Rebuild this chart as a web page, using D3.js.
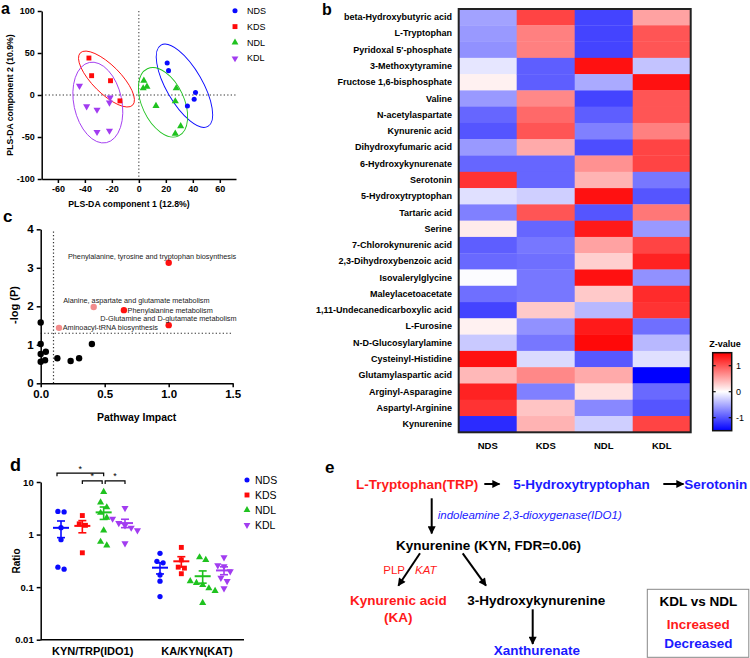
<!DOCTYPE html>
<html><head><meta charset="utf-8">
<script src="https://cdn.jsdelivr.net/npm/d3@7/dist/d3.min.js"></script>
<style>
html,body{margin:0;padding:0;background:#fff;}
svg{display:block;font-family:"Liberation Sans",Arial,Helvetica,sans-serif;}
</style></head><body>
<svg id="fig" width="750" height="658"></svg>
<script>
// ================= DATA =================
const groups = ["NDS","KDS","NDL","KDL"];
const groupColors = ["#0a0aff","#ff0a0a","#1fc21f","#a23cf0"];

// Panel a : PLS-DA scores [component 1, component 2]
const plsNDS = [[21,38],[22,29],[42,3],[41,-5],[36,-13]];
const plsKDS = [[-37,44],[-35,23],[-21,17],[-14,-7]];
const plsNDL = [[3.7,17],[3.2,8],[6,10],[27.7,8],[27,-7.5],[12.7,-13],[31,-37],[27,-46]];
const plsKDL = [[-44,11],[-38.7,-13.5],[-31,-17.5],[-21.3,-3],[-21.8,-9],[-31,-44],[-21.8,-42.5]];
const plsCenters = [[33.8,11],[-24,19],[17.9,-8.7],[-30.4,-9]];
const plsXTicks = [-60,-40,-20,0,20,40,60];
const plsYTicks = [-100,-50,0,50,100];

// Panel b : heatmap z-values
const metabolites = ["beta-Hydroxybutyric acid","L-Tryptophan","Pyridoxal 5'-phosphate","3-Methoxytyramine",
 "Fructose 1,6-bisphosphate","Valine","N-acetylaspartate","Kynurenic acid","Dihydroxyfumaric acid",
 "6-Hydroxykynurenate","Serotonin","5-Hydroxytryptophan","Tartaric acid","Serine","7-Chlorokynurenic acid",
 "2,3-Dihydroxybenzoic acid","Isovalerylglycine","Maleylacetoacetate","1,11-Undecanedicarboxylic acid",
 "L-Furosine","N-D-Glucosylarylamine","Cysteinyl-Histidine","Glutamylaspartic acid","Arginyl-Asparagine",
 "Aspartyl-Arginine","Kynurenine"];
const zNDS = [-0.55,-0.6,-0.65,-0.15,0.08,-0.6,-0.9,-1.0,-0.6,-0.9,1.2,-0.18,-0.75,0.12,-0.95,-0.88,-0.02,-0.85,-1.1,0.08,-0.32,1.4,0.42,1.3,1.2,-1.25];
const zKDS = [1.1,0.75,0.75,-0.95,-0.95,0.7,0.88,1.0,0.5,-0.9,-0.9,-0.28,1.0,-0.9,-0.8,-0.85,-0.8,-0.8,0.32,-0.65,-0.8,-0.22,0.7,-0.75,0.35,0.45];
const zNDL = [-1.1,-1.1,-1.1,1.4,-0.5,-1.1,-0.95,-0.75,-1.05,0.65,0.45,1.4,-1.0,1.35,0.55,0.28,1.4,0.32,-0.42,1.35,1.45,-0.98,0.5,0.18,-0.7,-0.28];
const zKDL = [0.55,1.0,1.0,-0.35,1.4,1.0,1.0,0.75,1.1,1.1,-0.8,-1.0,0.8,-0.6,1.1,1.3,-0.65,1.25,1.2,-0.85,-0.42,-0.18,-1.5,-0.88,-1.0,1.1];
const zTicks = [1,0,-1];

// Panel c : pathway analysis
const pathNames = ["Phenylalanine, tyrosine and tryptophan biosynthesis","Alanine, aspartate and glutamate metabolism",
 "Phenylalanine metabolism","D-Glutamine and D-glutamate metabolism","Aminoacyl-tRNA biosynthesis"];
const pathImpact = [1.0,0.414,0.65,1.0,0.143];
const pathLogP = [3.13,1.98,1.9,1.51,1.44];
const pathColor = ["#ff1010","#f28b8b","#ff1010","#ff1010","#f28b8b"];
const otherImpact = [0,0,0,0,0.034,0.04,0.13,0.234,0.30,0.40];
const otherLogP = [1.58,1.02,0.76,0.56,0.6,0.82,0.65,0.58,0.65,1.02];
const impactTicks = [0,0.5,1.0,1.5];
const logPTicks = [0,1,2,3,4];

// Panel d : ratios
const ratioCats = ["KYN/TRP(IDO1)","KA/KYN(KAT)"];
const kynTrpNDS = [2.7,2.75,1.35,0.8,0.24,0.22];
const kynTrpKDS = [2.3,1.6,1.5,0.45];
const kynTrpNDL = [6.5,4.1,3.3,2.6,2.1,1.2,0.73,0.62];
const kynTrpKDL = [3.2,2.0,1.65,1.5,1.35,1.2,0.68];
const kaKynNDS = [0.44,0.31,0.29,0.17,0.13,0.066];
const kaKynKDS = [0.57,0.33,0.24,0.23,0.18];
const kaKynNDL = [0.37,0.33,0.13,0.12,0.11,0.095,0.085,0.05];
const kaKynKDL = [0.37,0.26,0.25,0.2,0.15,0.13,0.095];
const ratioTicks = [0.01,0.1,1,10];
const sigBrackets = [["NDS","NDL",14.7],["KDS","NDL",10.5],["NDL","KDL",10.5]];

// ================= DRAW =================
const FONT = '"Liberation Sans",Arial,Helvetica,sans-serif';
const svg = d3.select("#fig");
const RED = "#ff1a1a", BLUE = "#1a1aff";

function styleAxis(g, fs){
  g.attr("font-family", FONT);
  g.selectAll("path,line").attr("stroke","#000").attr("stroke-width",1.5);
  g.selectAll("text").attr("font-size",fs).attr("font-weight","bold").attr("fill","#000");
}
function txt(g, x, y, s, o={}){
  const t = g.append("text").attr("x",x).attr("y",y).attr("dominant-baseline","central")
    .attr("font-size",o.fs||10).attr("font-weight",o.fw||"bold").attr("fill",o.fill||"#000")
    .attr("text-anchor",o.anchor||"start").text(s);
  if(o.italic) t.attr("font-style","italic");
  if(o.rot!==undefined) t.attr("transform",`rotate(${o.rot},${x},${y})`);
  return t;
}
const symTypes = [d3.symbolCircle, d3.symbolSquare, d3.symbolTriangle, d3.symbolTriangle];
function drawSym(g, gi, x, y, size){
  g.append("path").attr("d", d3.symbol(symTypes[gi], size)())
    .attr("transform", `translate(${x},${y})` + (gi===3 ? " rotate(180)" : ""))
    .attr("fill", groupColors[gi]);
}

// ---------- panel labels ----------
txt(svg, 1, 8, "a", {fs:16});
txt(svg, 322, 9, "b", {fs:16});
txt(svg, 3, 216, "c", {fs:17});
txt(svg, 10, 465, "d", {fs:18});
txt(svg, 325, 467, "e", {fs:17});

// ---------- Panel a ----------
{
  const g = svg.append("g");
  const x = d3.scaleLinear([-72,72],[41.7,236]);
  const y = d3.scaleLinear([-100,100],[179,11]);
  g.append("line").attr("x1",x(0)).attr("x2",x(0)).attr("y1",y(100)).attr("y2",y(-100))
    .attr("stroke","#333").attr("stroke-width",1).attr("stroke-dasharray","1.3,2.2");
  g.append("line").attr("x1",x(-72)).attr("x2",x(72)).attr("y1",y(0)).attr("y2",y(0))
    .attr("stroke","#333").attr("stroke-width",1).attr("stroke-dasharray","1.3,2.2");
  const ell = [[18,47,-30],[14,37,-45],[21,37,-25],[24,41,-12]]; // rx, ry (px), rotation
  plsCenters.forEach((c,i)=>{
    const cx=x(c[0]), cy=y(c[1]);
    g.append("ellipse").attr("cx",cx).attr("cy",cy).attr("rx",ell[i][0]).attr("ry",ell[i][1])
      .attr("transform",`rotate(${ell[i][2]},${cx},${cy})`).attr("fill","none")
      .attr("stroke",groupColors[i]).attr("stroke-width",0.9);
  });
  [plsNDS,plsKDS,plsNDL,plsKDL].forEach((pts,gi)=>{
    pts.forEach(p=>drawSym(g, gi, x(p[0]), y(p[1]), gi===1?24:(gi===0?20:22)));
  });
  const xa = g.append("g").attr("transform",`translate(0,${y(-100)})`)
    .call(d3.axisBottom(x).tickValues(plsXTicks).tickSize(4).tickSizeOuter(0).tickFormat(d=>String(d)));
  styleAxis(xa, 9);
  const ya = g.append("g").attr("transform",`translate(${x(-72)},0)`)
    .call(d3.axisLeft(y).tickValues(plsYTicks).tickSize(4).tickSizeOuter(0).tickFormat(d=>String(d)));
  styleAxis(ya, 9);
  txt(g, 129, 204, "PLS-DA component 1 (12.8%)", {fs:8.7, anchor:"middle"});
  txt(g, 10, 95, "PLS-DA component 2 (10.9%)", {fs:8.7, anchor:"middle", rot:-90});
  groups.forEach((n,i)=>{
    drawSym(g, i, 235, 10.7+i*15.9, i===1?24:20);
    txt(g, 247, 10.7+i*15.9, n, {fs:9, fw:"normal"});
  });
}

// ---------- Panel b ----------
{
  const g = svg.append("g");
  const x = d3.scaleBand(groups,[458.7,690.7]);
  const y = d3.scaleBand(metabolites,[9,432.3]);
  const col = d3.scaleLinear([-1.5,0,1.5],["#0000ff","#ffffff","#ff0000"]).clamp(true);
  const cols = [zNDS,zKDS,zNDL,zKDL];
  cols.forEach((arr,ci)=>{
    arr.forEach((v,ri)=>{
      g.append("rect").attr("x",x(groups[ci])).attr("y",y(metabolites[ri]))
        .attr("width",x.bandwidth()+0.3).attr("height",y.bandwidth()+0.3).attr("fill",col(v));
    });
  });
  g.append("rect").attr("x",458.7).attr("y",9).attr("width",232).attr("height",423.3)
    .attr("fill","none").attr("stroke","#222").attr("stroke-width",2);
  metabolites.forEach(m=>txt(g, 452, y(m)+y.bandwidth()/2, m, {fs:9, anchor:"end"}));
  groups.forEach(n=>txt(g, x(n)+x.bandwidth()/2, 445, n, {fs:9.5, anchor:"middle"}));
  // colour bar
  const cb = d3.scaleLinear([-1.5,1.5],[430.7,352.7]);
  const defs = svg.append("defs");
  const grad = defs.append("linearGradient").attr("id","zgrad").attr("x1",0).attr("y1",1).attr("x2",0).attr("y2",0);
  [-1.5,0,1.5].forEach(v=>grad.append("stop").attr("offset",(v+1.5)/3).attr("stop-color",col(v)));
  g.append("rect").attr("x",712.7).attr("y",352.7).attr("width",19).attr("height",78)
    .attr("fill","url(#zgrad)").attr("stroke","#111").attr("stroke-width",1.5);
  zTicks.forEach(t=>{
    g.append("line").attr("x1",712.7).attr("x2",715.7).attr("y1",cb(t)).attr("y2",cb(t)).attr("stroke","#111").attr("stroke-width",1.2);
    g.append("line").attr("x1",728.7).attr("x2",731.7).attr("y1",cb(t)).attr("y2",cb(t)).attr("stroke","#111").attr("stroke-width",1.2);
    txt(g, 736, cb(t), String(t), {fs:9, fw:"normal"});
  });
  txt(g, 725, 344, "Z-value", {fs:9, anchor:"middle"});
}

// ---------- Panel c ----------
{
  const g = svg.append("g");
  const x = d3.scaleLinear([0,1.5],[40.7,232.7]);
  const y = d3.scaleLinear([0,4],[383.3,229.3]);
  g.append("line").attr("x1",x(0.1)).attr("x2",x(0.1)).attr("y1",y(0)).attr("y2",y(4))
    .attr("stroke","#333").attr("stroke-width",1.2).attr("stroke-dasharray","1.3,2.2");
  g.append("line").attr("x1",x(0)).attr("x2",x(1.5)).attr("y1",y(1.3)).attr("y2",y(1.3))
    .attr("stroke","#333").attr("stroke-width",1.2).attr("stroke-dasharray","1.3,2.2");
  otherImpact.forEach((v,i)=>g.append("circle").attr("cx",x(v)).attr("cy",y(otherLogP[i])).attr("r",3.2).attr("fill","#000"));
  pathImpact.forEach((v,i)=>g.append("circle").attr("cx",x(v)).attr("cy",y(pathLogP[i])).attr("r",3.2).attr("fill",pathColor[i]));
  const lab = [[-16.6,-6.7,"middle"],[42.7,-7,"middle"],[3.7,0,"start"],[-0.3,-7,"middle"],[3.7,0,"start"]];
  pathNames.forEach((n,i)=>txt(g, x(pathImpact[i])+lab[i][0], y(pathLogP[i])+lab[i][1], n,
    {fs:7.3, fw:"normal", anchor:lab[i][2], fill:"#222"}));
  const xa = g.append("g").attr("transform",`translate(0,${y(0)})`)
    .call(d3.axisBottom(x).tickValues(impactTicks).tickSize(4).tickSizeOuter(0).tickFormat(d3.format(".1f")));
  styleAxis(xa, 11.5);
  const ya = g.append("g").attr("transform",`translate(${x(0)},0)`)
    .call(d3.axisLeft(y).tickValues(logPTicks).tickSize(4).tickSizeOuter(0).tickFormat(d=>String(d)));
  styleAxis(ya, 11.5);
  txt(g, 136.7, 416.5, "Pathway Impact", {fs:10.5, anchor:"middle"});
  txt(g, 14, 305, "-log (P)", {fs:11, anchor:"middle", rot:-90});
}

// ---------- Panel d ----------
{
  const g = svg.append("g");
  const y = d3.scaleLog([0.01,10],[639.7,482]);
  const cx = d3.scalePoint(ratioCats,[93,192]);
  const off = d3.scalePoint(groups,[-32,32]);
  const sets = [[kynTrpNDS,kynTrpKDS,kynTrpNDL,kynTrpKDL],[kaKynNDS,kaKynKDS,kaKynNDL,kaKynKDL]];
  const r = 2.7;
  sets.forEach((grpVals,ci)=>{
    grpVals.forEach((vals,gi)=>{
      const gx = cx(ratioCats[ci]) + off(groups[gi]);
      const m = d3.mean(vals), sem = d3.deviation(vals)/Math.sqrt(vals.length);
      const pts = vals.map(v=>({v,py:y(v)})).sort((a,b)=>a.py-b.py);
      const clusters=[]; pts.forEach(p=>{
        const last = clusters[clusters.length-1];
        if(last && p.py - last[last.length-1].py < 2*r) last.push(p); else clusters.push([p]);
      });
      clusters.forEach(cl=>cl.forEach((p,k)=>{ p.px = gx + (k-(cl.length-1)/2)*2.3*r; }));
      pts.forEach(p=>drawSym(g, gi, p.px, p.py, gi===1?24:22));
      const c = groupColors[gi];
      g.append("line").attr("x1",gx-8).attr("x2",gx+8).attr("y1",y(m)).attr("y2",y(m)).attr("stroke",c).attr("stroke-width",2);
      g.append("line").attr("x1",gx).attr("x2",gx).attr("y1",y(m+sem)).attr("y2",y(Math.max(m-sem,0.011))).attr("stroke",c).attr("stroke-width",1.6);
      [m+sem, m-sem].forEach(v=>g.append("line").attr("x1",gx-4).attr("x2",gx+4).attr("y1",y(v)).attr("y2",y(v)).attr("stroke",c).attr("stroke-width",1.6));
    });
  });
  sigBrackets.forEach((b,i)=>{
    let x1 = cx(ratioCats[0])+off(b[0]), x2 = cx(ratioCats[0])+off(b[1]);
    if(i===0) x1 -= 4; if(i===1) x2 -= 1.5; if(i===2) x1 += 1.5;
    const yy = y(b[2]);
    g.append("path").attr("d",`M${x1},${yy+3}V${yy}H${x2}V${yy+3}`).attr("fill","none").attr("stroke","#000").attr("stroke-width",1.2);
    txt(g,(x1+x2)/2, yy-4.5, "*", {fs:9, fw:"normal", anchor:"middle"});
  });
  const ya = g.append("g").attr("transform","translate(40.7,0)")
    .call(d3.axisLeft(y).tickValues(ratioTicks).tickSize(4).tickSizeOuter(0).tickFormat(d=>String(d)));
  styleAxis(ya, 9.5);
  g.append("line").attr("x1",40.7).attr("x2",244).attr("y1",639.7).attr("y2",639.7).attr("stroke","#000").attr("stroke-width",1.5);
  ratioCats.forEach((c,i)=>txt(g, i===0?92.7:197, 651, c, {fs:11, anchor:"middle"}));
  txt(g, 16, 561, "Ratio", {fs:10, anchor:"middle", rot:-90});
  groups.forEach((n,i)=>{
    drawSym(g, i, 247, 480+i*15, i===1?24:20);
    txt(g, 255, 480+i*15, n, {fs:10.5, fw:"normal"});
  });
}

// ---------- Panel e ----------
{
  const g = svg.append("g");
  const defs = svg.append("defs");
  defs.append("marker").attr("id","ah").attr("viewBox","0 0 10 10").attr("refX",9).attr("refY",5)
    .attr("markerWidth",9).attr("markerHeight",8).attr("markerUnits","userSpaceOnUse").attr("orient","auto")
    .append("path").attr("d","M0,0L10,5L0,10z").attr("fill","#000");
  const arrow = (x1,y1,x2,y2)=>g.append("line").attr("x1",x1).attr("y1",y1).attr("x2",x2).attr("y2",y2)
    .attr("stroke","#000").attr("stroke-width",2).attr("marker-end","url(#ah)");
  arrow(484.3,484,499.5,484);
  arrow(663.3,484,683.5,484);
  arrow(431.7,498.3,431.7,533.5);
  arrow(420,553.3,398.3,585.7);
  arrow(462.7,553.3,486,585.7);
  arrow(532.7,609.3,532.7,644);
  const F = 13.5;
  txt(g, 356, 484, "L-Tryptophan(TRP)", {fs:F, fill:RED});
  txt(g, 513.3, 484, "5-Hydroxytryptophan", {fs:F, fill:BLUE});
  txt(g, 684.3, 484, "Serotonin", {fs:F, fill:BLUE});
  txt(g, 437.7, 515, "indoleamine 2,3-dioxygenase(IDO1)", {fs:11.5, fw:"normal", italic:true, fill:BLUE});
  txt(g, 396, 545, "Kynurenine (KYN, FDR=0.06)", {fs:F});
  txt(g, 383.3, 570, "PLP", {fs:11.5, fw:"normal", fill:RED});
  txt(g, 415, 570, "KAT", {fs:11.5, fw:"normal", italic:true, fill:RED});
  txt(g, 398.3, 600, "Kynurenic acid", {fs:F, fill:RED, anchor:"middle"});
  txt(g, 398.3, 617.3, "(KA)", {fs:F, fill:RED, anchor:"middle"});
  txt(g, 536.3, 600, "3-Hydroxykynurenine", {fs:F, anchor:"middle"});
  txt(g, 537, 650.5, "Xanthurenate", {fs:F, fill:BLUE, anchor:"middle"});
  g.append("rect").attr("x",647.3).attr("y",589.3).attr("width",101.5).attr("height",68)
    .attr("fill","none").attr("stroke","#888").attr("stroke-width",1);
  txt(g, 698.3, 601.7, "KDL vs NDL", {fs:F, anchor:"middle"});
  txt(g, 698.3, 624, "Increased", {fs:F, fill:RED, anchor:"middle"});
  txt(g, 698.3, 643.3, "Decreased", {fs:F, fill:BLUE, anchor:"middle"});
}
</script>
</body></html>
